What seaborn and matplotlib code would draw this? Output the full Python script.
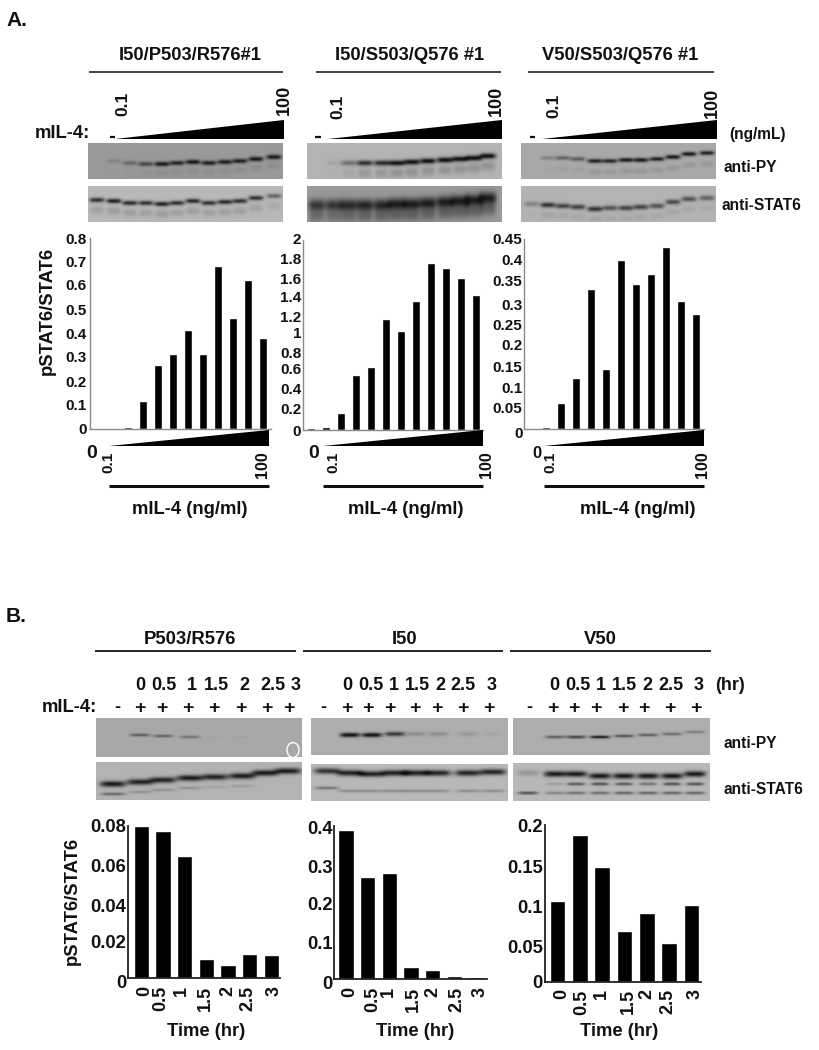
import numpy as np
import pandas as pd
import matplotlib
matplotlib.use("Agg")
import matplotlib.pyplot as plt
from matplotlib.patches import Polygon, Ellipse
from matplotlib.transforms import ScaledTranslation
import seaborn as sns

# ---------- bar data ----------
dose_lanes = [str(i) for i in range(12)]
time_labels = ["0", "0.5", "1", "1.5", "2", "2.5", "3"]

dose_p503 = [0, 0, 0.01, 0.116, 0.269, 0.313, 0.415, 0.313, 0.683, 0.465, 0.626, 0.380]
dose_i50 = [0.025, 0.028, 0.18, 0.576, 0.66, 1.166, 1.037, 1.354, 1.763, 1.707, 1.60, 1.417]
dose_v50 = [0.0016, 0.004, 0.0616, 0.121, 0.332, 0.142, 0.400, 0.343, 0.366, 0.430, 0.303, 0.272]

time_p503 = [0.08, 0.0775, 0.064, 0.0098, 0.0067, 0.0128, 0.0123]
time_i50 = [0.389, 0.268, 0.2765, 0.0313, 0.0243, 0.0096, 0.0052]
time_v50 = [0.1034, 0.1877, 0.146, 0.0643, 0.0872, 0.0489, 0.0974]

ticks_a1 = ["0", "0.1", "0.2", "0.3", "0.4", "0.5", "0.6", "0.7", "0.8"]
ticks_a2 = ["0", "0.2", "0.4", "0.6", "0.8", "1", "1.2", "1.4", "1.6", "1.8", "2"]
ticks_a3 = ["0", "0.05", "0.1", "0.15", "0.2", "0.25", "0.3", "0.35", "0.4", "0.45"]
ticks_b1 = ["0", "0.02", "0.04", "0.06", "0.08"]
ticks_b2 = ["0", "0.1", "0.2", "0.3", "0.4"]
ticks_b3 = ["0", "0.05", "0.1", "0.15", "0.2"]

# ---------- blot band data (intensity per lane, band row per lane) ----------
a1_py_i = [0, .15, .35, .6, .95, .85, .95, .9, .9, .9, .95, .95]
a1_py_y = [161, 161, 163, 164, 164, 163, 162, 163, 162, 161, 159, 157]
a1_st_i = [.8, .9, .85, .8, .9, .8, .85, .8, .85, .8, .8, .5]
a1_st_y = [200, 201, 203, 203, 204, 203, 201, 203, 202, 201, 198, 196]
a2_py_i = [0, .08, .4, .8, .85, 1, 1, 1, 1, 1, 1, 1]
a2_py_y = [163, 163, 163, 163, 163, 163, 162, 161, 160, 159, 158, 156]
a2_st_i = [.72, .72, .8, .85, .85, .9, .9, .9, .9, .9, .9, .9]
a2_st_y = [205, 205, 205, 205, 205, 204, 204, 203, 202, 201, 200, 198]
a3_py_i = [0, .25, .45, .5, .9, .85, .95, .95, .9, .95, .95, .9]
a3_py_y = [158, 158, 158, 159, 161, 161, 160, 160, 159, 157, 154, 153]
a3_st_i = [.3, .8, .7, .7, .8, .6, .7, .7, .6, .65, .6, .5]
a3_st_y = [204, 205, 206, 207, 209, 208, 208, 207, 206, 202, 199, 198]

b1_py_i = [0, .5, .45, .35, .03, .04, 0, 0]
b1_py_y = [734, 735, 736, 737, 737, 737, 737, 737]
b1_st_i = [.95, .9, .9, .95, .9, .95, .95, .95]
b1_st_y = [784, 782, 780, 778, 777, 776, 773, 771]
b1_s2_i = [.45, .2, .2, .2, .1, .12, 0, 0]
b1_s2_y = [794, 792, 790, 788, 787, 786, 783, 781]
b2_py_i = [0, 1, 1, .75, .2, .2, .15, .05]
b2_py_y = [737, 735, 735, 734, 734, 734, 734, 734]
b2_st_i = [.8, .9, .9, .9, .9, .9, .9, .9]
b2_st_y = [771, 773, 774, 773, 773, 773, 773, 772]
b2_s2_i = [.4, .25, .25, .25, .25, .25, .25, .25]
b2_s2_y = [788, 791, 791, 791, 791, 791, 791, 791]
b3_py_i = [0, .5, .65, .9, .55, .5, .4, .3]
b3_py_y = [738, 737, 737, 737, 736, 735, 734, 732]
b3_st_i = [.2, .95, .95, .95, .95, .95, .95, .95]
b3_st_y = [773, 774, 774, 776, 776, 776, 776, 774]
b3_s2_i = [0, .15, .55, .6, .55, .4, .6, .6]
b3_s3_i = [.6, .3, .4, .45, .5, .5, .5, .5]

lanes_a1 = [97, 114, 130, 146, 162, 177, 193, 209, 225, 240, 256, 274]
lanes_a2 = [317, 334, 349, 365, 382, 397, 412, 428, 445, 460, 474, 488]
lanes_a3 = [532, 548, 563, 578, 595, 610, 626, 641, 657, 673, 689, 707]
lanes_b1 = [113, 140, 163, 190, 215, 242, 265, 288]
lanes_b2 = [327, 350, 372, 395, 416, 438, 468, 493]
lanes_b3 = [528, 555, 576, 600, 624, 648, 672, 695]

W, H = 819, 1050
sns.set_theme(style="white")
plt.rcParams["font.family"] = ["Liberation Sans", "DejaVu Sans"]
plt.rcParams["font.weight"] = "bold"
plt.rcParams["axes.labelweight"] = "bold"
fig = plt.figure(figsize=(W / 100, H / 100), dpi=100, facecolor="white")


def px_axes(x0, y0, x1, y1, **kw):
    return fig.add_axes([x0 / W, 1 - y1 / H, (x1 - x0) / W, (y1 - y0) / H], **kw)


def gel(x0, x1, y0, y1, bg, lanes, bands):
    """Render a blot panel from per-lane band lists as a heatmap."""
    ax = px_axes(x0, y0, x1, y1)
    X, Y = np.meshgrid(np.arange(x0, x1) + .5, np.arange(y0, y1) + .5)
    dark = np.zeros_like(X)
    for ys, ints, sy, hw in bands:
        for xc, yc, a in zip(lanes, ys, ints):
            dark += a * np.exp(-((Y - yc) / sy) ** 2) * np.exp(-((X - xc) / hw) ** 4)
    img = bg - (bg - 0.08) * np.clip(dark, 0, 1)
    sns.heatmap(img, ax=ax, cmap="gray", vmin=0, vmax=1, cbar=False,
                xticklabels=False, yticklabels=False)
    return ax


# panel A blots
gel(88, 283, 143, 179, .60, lanes_a1, [(a1_py_y, a1_py_i, 2.4, 7.5),
                                       (np.add(a1_py_y, 9), np.multiply(a1_py_i, .1), 3.5, 7)])
gel(88, 283, 186, 222, .72, lanes_a1, [(a1_st_y, a1_st_i, 2.4, 7.5),
                                       (np.add(a1_st_y, 10), np.multiply(a1_st_i, .18), 4, 7)])
gel(307, 502, 143, 179, .70, lanes_a2, [(a2_py_y, a2_py_i, 2.8, 8),
                                        (np.add(a2_py_y, 10), np.multiply(a2_py_i, .2), 5, 7)])
gel(307, 502, 186, 222, .60, lanes_a2, [(a2_st_y, a2_st_i, 6, 8.5),
                                        (np.add(a2_st_y, 11), np.multiply(a2_st_i, .45), 7, 8)])
gel(521, 716, 143, 179, .66, lanes_a3, [(a3_py_y, a3_py_i, 2.2, 7.5),
                                        (np.add(a3_py_y, 11), np.multiply(a3_py_i, .12), 3, 7)])
gel(521, 716, 186, 222, .70, lanes_a3, [(a3_st_y, a3_st_i, 2.6, 7.5),
                                        (np.add(a3_st_y, 10), np.multiply(a3_st_i, .12), 3, 7)])
# panel B blots
gel(96, 302, 718, 757, .66, lanes_b1, [(b1_py_y, b1_py_i, 1.6, 10)])
gel(96, 302, 762, 800, .70, lanes_b1, [(b1_st_y, b1_st_i, 3.0, 13),
                                       (b1_s2_y, b1_s2_i, 1.6, 12)])
gel(311, 508, 718, 755, .68, lanes_b2, [(b2_py_y, b2_py_i, 2.3, 10)])
gel(311, 508, 764, 801, .72, lanes_b2, [(b2_st_y, b2_st_i, 3.0, 13),
                                        (b2_s2_y, b2_s2_i, 1.6, 12)])
gel(513, 710, 718, 755, .68, lanes_b3, [(b3_py_y, b3_py_i, 1.6, 10)])
gel(513, 710, 763, 801, .72, lanes_b3, [(b3_st_y, b3_st_i, 3.0, 11),
                                        (np.full(8, 784), b3_s2_i, 1.7, 9),
                                        (np.full(8, 793), b3_s3_i, 1.6, 10)])


def bars(cats, vals, ymax, ticks, tick_vals, rect, first, step, width_px, label_dy,
         size, spine_color, spine_lw, pad, xlabel_dx=None):
    x0, ytop, x1, y0 = rect
    ax = px_axes(x0, ytop, x1, y0)
    df = pd.DataFrame({"lane": cats, "ratio": vals})
    sns.barplot(data=df, x="lane", y="ratio", color="black", saturation=1,
                width=width_px / step, ax=ax, order=cats, errorbar=None)
    ax.set_xlim((x0 - first) / step, (x1 - first) / step)
    ax.set_ylim(0, ymax)
    ax.set_xlabel("")
    ax.set_ylabel("")
    ax.patch.set_alpha(0)
    for s in ("top", "right"):
        ax.spines[s].set_visible(False)
    for s in ("left", "bottom"):
        ax.spines[s].set_color(spine_color)
        ax.spines[s].set_linewidth(spine_lw)
    ax.set_yticks(tick_vals)
    ax.set_yticklabels(ticks, fontsize=size, fontweight="bold", color="#111111")
    ax.tick_params(axis="y", length=0, pad=pad)
    for lab, dy in zip(ax.get_yticklabels(), label_dy):
        lab.set_transform(lab.get_transform() + ScaledTranslation(0, dy / 100, fig.dpi_scale_trans))
    if xlabel_dx is None:
        ax.tick_params(axis="x", length=1.5, width=.8, color="#444444", labelbottom=False, direction="out")
    else:
        ax.set_xticks(range(len(cats)))
        ax.set_xticklabels(cats, rotation=90, fontsize=13, fontweight="bold", color="#111111")
        ax.tick_params(axis="x", length=0, pad=5.5)
        for lab, dx in zip(ax.get_xticklabels(), xlabel_dx):
            lab.set_transform(lab.get_transform() + ScaledTranslation(dx / 100, 0, fig.dpi_scale_trans))
    return ax


GREY = "#8a8a8a"
bars(dose_lanes, dose_p503, .8, ticks_a1, [i / 10 for i in range(9)],
     (90, 238, 271, 429), 98, 15, 7.4, [0, 1, 0, 1, 0, 0, 1, 0, -1], 11, GREY, 1, 2.2)
bars(dose_lanes, dose_i50, 2, ticks_a2, [i / 5 for i in range(11)],
     (303, 240, 483, 430), 311, 15, 7.4, [0, 2, 4, 5, 2, 2, -1, 1, -1, 0, 1], 11, GREY, 1, 1.2)
bars(dose_lanes, dose_v50, .45, ticks_a3, [i * .05 for i in range(10)],
     (524, 239, 704, 429), 531, 15, 7.4, [-3, 0, -1, -1, 0, -1, -2, 1, 1, 0], 11, GREY, 1, 1.0)
bars(time_labels, time_p503, .08, ticks_b1, [0, .02, .04, .06, .08],
     (128, 826, 280, 978), 141.3, 21.67, 15.6, [-4, -2, -3, -2, 0], 13.2, "#222222", 1.3, 1.2,
     [3.7, -2.7, -3.3, -1, 0, -1.7, 3])
bars(time_labels, time_i50, .4, ticks_b2, [0, .1, .2, .3, .4],
     (334.3, 826, 487, 979.3), 346, 21.67, 15.6, [-3, -2, -1, -2, -1], 13.2, "#222222", 1.3, 1.2,
     [3.3, 4.7, -.7, 2, 0, 2.7, 4])
bars(time_labels, time_v50, .2, ticks_b3, [0, .05, .1, .15, .2],
     (545, 825, 701, 981.7), 557.5, 22.33, 15.8, [0, -3.5, -3, -2, -1], 13.2, "#222222", 1.3, 1.7,
     [4.3, 1.7, -.3, 3.7, .3, -1, 3.7])

# ---------- annotation layer in picture pixels ----------
ov = fig.add_axes([0, 0, 1, 1], zorder=10)
ov.set_xlim(0, W)
ov.set_ylim(H, 0)
ov.axis("off")
ov.patch.set_alpha(0)


def t(x, y, s, size=13.2, ha="center", va="center", rot=0, color="#111111"):
    ov.text(x, y, s, fontsize=size, ha=ha, va=va, rotation=rot, color=color,
            fontweight="bold", family=["Liberation Sans", "DejaVu Sans"])


def rule(x0, x1, y, lw=1.1):
    ov.plot([x0, x1], [y, y], color="#111111", lw=lw, solid_capstyle="butt")


def wedge(x0, x1, ybot, ytop):
    ov.add_patch(Polygon([(x0, ybot), (x1, ybot), (x1, ytop)], closed=True, fc="black", ec="none"))


t(6, 20, "A.", 15, ha="left")
t(6, 617, "B.", 15, ha="left")

for cx, s, a, b in [(190, "I50/P503/R576#1", 89, 283), (410, "I50/S503/Q576 #1", 316, 501),
                    (620, "V50/S503/Q576 #1", 528, 714)]:
    t(cx, 55, s, 13.2)
    rule(a, b, 72)

for a, b, d0, d1 in [(115, 284, 110, 115), (328, 502, 315, 321), (542, 717, 530, 535)]:
    wedge(a, b, 138.5, 120)
    rule(d0, d1, 137, 1.6)
t(90.5, 134, "mIL-4:", 13.2, ha="right")
for x, y in [(123, 104), (338, 107), (554, 106)]:
    t(x, y, "0.1", 12.5, rot=90)
for x, y in [(284, 100), (496, 101), (712, 103)]:
    t(x, y, "100", 13, rot=90)
t(758, 135, "(ng/mL)", 11.2)
t(723, 167, "anti-PY", 11.2, ha="left")
t(721, 205, "anti-STAT6", 11.2, ha="left")

t(47, 311, "pSTAT6/STAT6", 13.3, rot=90)
for a, b, cx, z, zs, x01, x100 in [(109, 269, 190, 92, 14, 108, 262), (323, 483, 406, 314, 14, 333, 487),
                                   (544, 704, 638, 537, 12, 550, 702)]:
    wedge(a, b, 446, 430)
    t(z, 453, "0", zs)
    t(x01, 462, "0.1", 11, rot=90)
    t(x100, 465, "100", 11.5, rot=90)
    rule(a, b, 486, 2.2)
    t(cx, 510, "mIL-4 (ng/ml)", 13.2)

# panel B headers
for cx, s, a, b in [(190, "P503/R576", 95, 296), (405, "I50", 303, 503), (600, "V50", 510, 711)]:
    t(cx, 639, s, 13.3)
    rule(a, b, 651, 1.3)

hours = ["0", "0.5", "1", "1.5", "2", "2.5", "3"]
for xs in ([140, 164, 192, 216, 244, 273, 296], [347, 371, 394, 417, 440, 463, 492],
           [554, 578, 601, 624, 647, 671, 699]):
    for x, s in zip(xs, hours):
        t(x, 685, s, 13)
t(730, 685, "(hr)", 13)
t(97, 708, "mIL-4:", 13.2, ha="right")
for minus, plus in [(117, [140, 162, 188, 214, 241, 267, 289]),
                    (323, [347, 368, 390, 415, 437, 463, 489]),
                    (529, [553, 574, 596, 623, 644, 670, 696])]:
    t(minus, 708, "-", 13)
    for x in plus:
        t(x, 708, "+", 14)
t(723, 744, "anti-PY", 11.2, ha="left")
t(723, 789, "anti-STAT6", 11.2, ha="left")
ov.add_patch(Ellipse((293, 750), 12, 15, fc="none", ec="white", lw=1))

t(72, 901, "pSTAT6/STAT6", 13.3, rot=90)
for cx in (206, 415, 619):
    t(cx, 1032, "Time (hr)", 13.2)

fig.savefig("out.png", dpi=100, facecolor="white")
